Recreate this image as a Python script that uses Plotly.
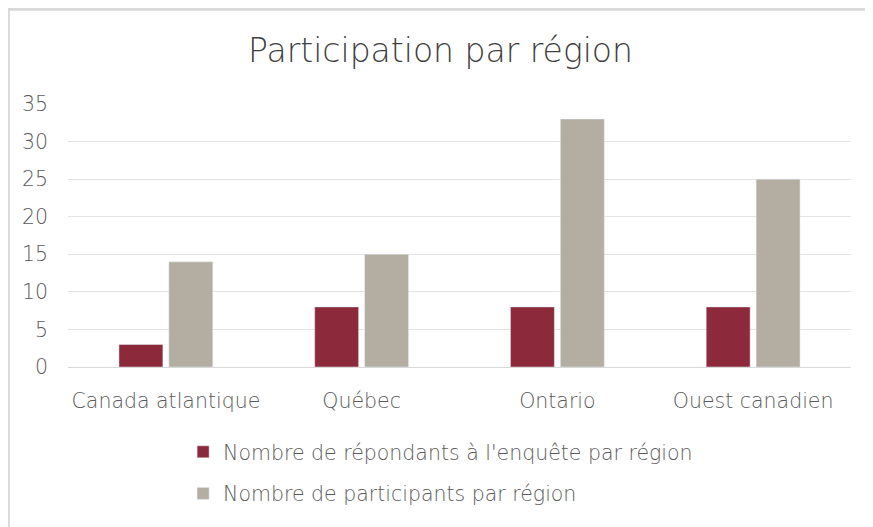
import plotly.graph_objects as go

categories = ["Canada atlantique", "Québec", "Ontario", "Ouest canadien"]
repondants = [3, 8, 8, 8]
participants = [14, 15, 33, 25]
series_names = ["Nombre de répondants à l'enquête par région", "Nombre de participants par région"]
y_ticks = [0, 5, 10, 15, 20, 25, 30, 35]

RED = "#8C2A3C"
GRAY = "#B3AEA1"
FONT = "'DejaVu Sans', sans-serif"
TXT = "#5A5A5A"

fig = go.Figure()
fig.add_trace(go.Bar(x=categories, y=repondants, name=series_names[0], marker_color=RED,
                     legendgroup="a"))
fig.add_trace(go.Bar(x=categories, y=participants, name=series_names[1], marker_color=GRAY,
                     legendgroup="b"))

# page body adds 8px offset; plot area drawn at page x 68..851, y 104..367
fig.update_layout(
    width=865, height=560,
    margin=dict(l=60, r=22, t=96, b=201),
    paper_bgcolor="white", plot_bgcolor="white",
    barmode="group", bargap=0.49, bargroupgap=0.12,
    font=dict(family=FONT, color=TXT, size=19, weight=300),
    title=dict(text="Participation par région", x=0.5, xanchor="center", y=1 - 42 / 560, yanchor="middle",
               font=dict(size=33, color="#404040", family=FONT, weight=300)),
    xaxis=dict(showgrid=False, showline=True, linecolor="#D9D9D9", linewidth=1, ticks="",
               ticklabelstandoff=15,
               tickfont=dict(size=20.5, color=TXT, family=FONT, weight=300)),
    yaxis=dict(range=[0, 35], tickvals=y_ticks, showgrid=True, gridcolor="#E3E3E3", gridwidth=1,
               zeroline=False, showline=False, ticks="", ticklabelstandoff=19,
               tickfont=dict(size=20.5, color=TXT, family=FONT, weight=300)),
    legend=dict(orientation="v", x=0.147, xanchor="left", y=-0.247, yanchor="top",
                traceorder="grouped", tracegroupgap=12,
                font=dict(size=20.5, color=TXT, family=FONT, weight=300),
                itemwidth=30),
    shapes=[
        dict(type="rect", xref="paper", yref="paper", x0=-0.1, x1=1.05, y0=1.355, y1=1.45,
             fillcolor="#D9D9D9", line_width=0, layer="below"),
        dict(type="line", xref="paper", yref="paper", x0=-0.0755, x1=-0.0755, y0=-0.62, y1=1.45,
             line=dict(color="#D9D9D9", width=2)),
    ],
)

fig.write_html("out.html")
